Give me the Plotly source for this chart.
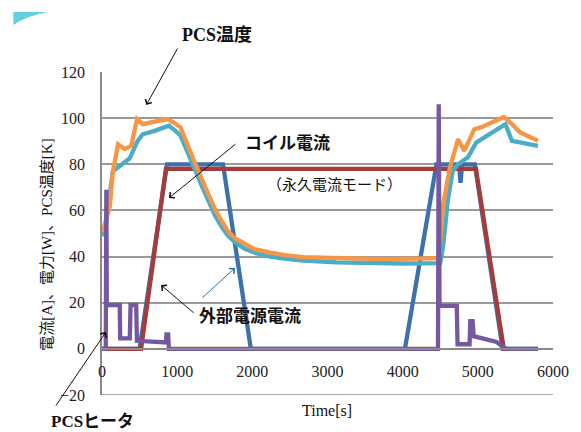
import plotly.graph_objects as go

# ---------------- data ----------------
ext_t = [0, 500, 865, 1610, 1980, 4030, 4450, 4750, 4770, 4790, 4960, 5330, 5800]
ext_i = [0, 0, 80, 80, 0, 0, 80, 80, 72, 80, 80, 0, 0]

coil_t = [0, 520, 850, 4975, 5345, 5400]
coil_i = [0, 0, 78, 78, 0, 0]

temp2_t = [0, 20, 40, 144, 257, 367, 472, 541, 700, 890, 978, 1044, 1328, 1500, 1600, 1677, 1780,
           1895, 2050, 2240, 2450, 2680, 3120, 3600, 4000, 4500, 4540, 4600, 4665, 4737, 4868,
           4978, 5214, 5367, 5454, 5800]
temp2_k = [49, 50, 51, 77, 80, 82.5, 90, 93, 94.5, 96.7, 94.5, 92.5, 70.6, 58, 52.5, 49, 46,
           43.5, 41.5, 40, 39, 38.3, 37.5, 37.2, 37, 37.2, 45, 64, 77, 80, 83,
           89.4, 94.5, 97.4, 90.1, 88]

temp1_t = [0, 20, 105, 145, 214, 301, 389, 467, 541, 700, 869, 955, 1044, 1262, 1393, 1503, 1600,
           1677, 1765, 1895, 2030, 2240, 2460, 2680, 3120, 3600, 4000, 4470, 4490, 4535, 4625,
           4737, 4820, 4952, 5040, 5214, 5345, 5454, 5563, 5800]
temp1_k = [51, 52, 62, 77, 88.7, 86.6, 88, 99.6, 97.4, 98.3, 99.6, 98.1, 96, 78.6, 69.2, 60.5, 55,
           51, 48, 45.4, 43.2, 41.7, 40.5, 39.8, 39.2, 39, 39, 39.3, 42, 62, 78,
           90.9, 85.8, 95.2, 96, 98.8, 100.5, 97.4, 93.8, 90.2]

heater_t = [0, 50, 58, 64, 236, 242, 370, 380, 455, 465, 850, 858, 880, 890, 4470, 4480, 4490,
            4720, 4730, 4890, 4900, 4930, 4945, 5250, 5370, 5800]
heater_w = [0, 0, 69, 19, 19, 4.5, 4.5, 19, 19, 3.5, 2.8, 6.3, 6.3, 0, 0, 106, 18.6,
            18.6, 2, 2, 12, 12, 5.5, 3, 0, 0]

x_ticks = [0, 1000, 2000, 3000, 4000, 5000, 6000]
y_ticks = [-20, 0, 20, 40, 60, 80, 100, 120]

# ---------------- layout helpers ----------------
# the page body adds an 8px offset, so the figure is drawn 8px smaller and
# all screen positions below are given in window pixels
OFF = 8
W, H = 581 - OFF, 432 - OFF
ML, MR, MT, MB = 102 - OFF, 21, 72 - OFF, 37
PW, PH = W - ML - MR, H - MT - MB


def px(x):
    return (x - OFF - ML) / PW


def py(y):
    return (OFF + H - MB - y) / PH


SERIF = "Liberation Serif, Noto Sans CJK JP, serif"
LW = 4.3

fig = go.Figure()
fig.add_trace(go.Scatter(x=ext_t, y=ext_i, mode="lines", line=dict(color="#3D71AE", width=LW)))
fig.add_trace(go.Scatter(x=coil_t, y=coil_i, mode="lines", line=dict(color="#A63B3B", width=LW)))
fig.add_trace(go.Scatter(x=temp2_t, y=temp2_k, mode="lines", line=dict(color="#4BACC6", width=LW)))
fig.add_trace(go.Scatter(x=temp1_t, y=temp1_k, mode="lines", line=dict(color="#F79646", width=LW)))
fig.add_trace(go.Scatter(x=heater_t, y=heater_w, mode="lines", line=dict(color="#7558A0", width=LW)))

annotations = []


def text(s, x, y, size=17, bold=False, angle=0):
    annotations.append(dict(
        text=("<b>%s</b>" % s) if bold else s, xref="paper", yref="paper",
        x=px(x), y=py(y), xanchor="center", yanchor="middle", showarrow=False,
        textangle=angle, font=dict(family=SERIF, size=size, color="#111111")))


def arrow(tail, head, color="#111111"):
    annotations.append(dict(
        text="", xref="paper", yref="paper", axref="pixel", ayref="pixel",
        x=px(head[0]), y=py(head[1]), ax=tail[0] - head[0], ay=tail[1] - head[1],
        showarrow=True, arrowhead=4, arrowsize=1.4, arrowwidth=1, arrowcolor=color))


text("PCS温度", 219, 35, 18, True)
arrow((179, 47), (147, 105))
text("コイル電流", 290, 143, 17, True)
arrow((238, 143), (170, 198))
text("（永久電流モード）", 338, 185, 15)
text("外部電源電流", 252, 316, 17, True)
arrow((196, 314), (162, 285))
arrow((203, 299), (237, 268), color="#2E6BB0")
text("PCSヒータ", 92, 421, 17, True)
arrow((55, 407), (106, 332))
text("Time[s]", 330, 410, 16)
text("電流[A]、電力[W]、PCS温度[K]", 46, 245, 15, angle=-90)

shapes = [
    # bottom border of plot area
    dict(type="line", xref="paper", yref="y", x0=0, x1=1, y0=-20, y1=-20,
         line=dict(color="#8a8a8a", width=1.5)),
    # slide decoration
    dict(type="path", xref="paper", yref="paper",
         path="M %f %f L %f %f Q %f %f %f %f Z" % (px(12), py(12), px(47), py(12), px(25), py(16), px(12), py(25)),
         fillcolor="#63D2DE", line=dict(width=0)),
]

fig.update_layout(
    width=W, height=H,
    margin=dict(l=ML, r=MR, t=MT, b=MB),
    paper_bgcolor="#ffffff", plot_bgcolor="#ffffff",
    showlegend=False,
    annotations=annotations, shapes=shapes,
    xaxis=dict(range=[0, 6000], tickvals=x_ticks, showgrid=False, zeroline=False,
               anchor="free", position=20 / 140, showline=True, linecolor="#8a8a8a", linewidth=1.5,
               ticks="", ticklabelstandoff=8,
               tickfont=dict(family=SERIF, size=16, color="#222222")),
    yaxis=dict(range=[-20, 120], tickvals=y_ticks, showgrid=True, gridcolor="#9a9a9a", gridwidth=1.5,
               zeroline=False, showline=True, linecolor="#8a8a8a", linewidth=1.5,
               ticks="", ticklabelstandoff=12,
               tickfont=dict(family=SERIF, size=16, color="#222222")),
)

fig.write_html("out.html")
